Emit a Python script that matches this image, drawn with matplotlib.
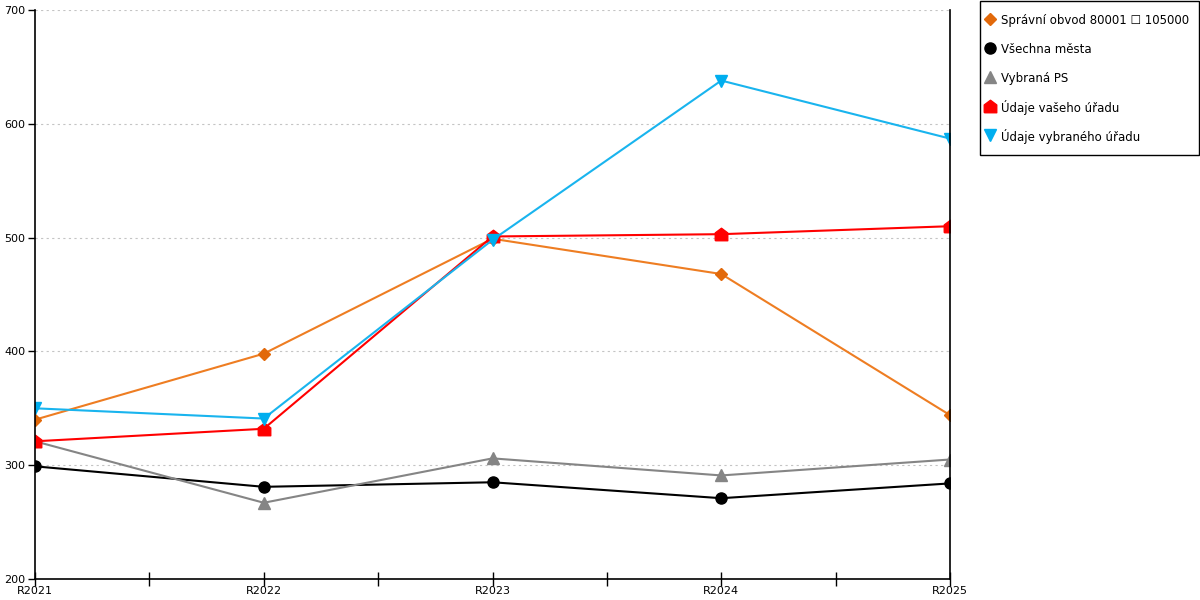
import matplotlib
matplotlib.use("Agg")
import matplotlib.pyplot as plt
from matplotlib.patches import Rectangle
from matplotlib.lines import Line2D
import numpy as np

# Data
years = ["R2021", "R2022", "R2023", "R2024", "R2025"]
spravni_obvod = [340, 398, 499, 468, 344]
vsechna_mesta = [299, 281, 285, 271, 284]
vybrana_ps = [321, 267, 306, 291, 305]
vas_urad = [321, 332, 501, 503, 510]
vybrany_urad = [350, 341, 498, 638, 587]

labels = ["Správní obvod 80001 \u2610 105000", "Všechna města", "Vybraná PS",
          "Údaje vašeho úřadu", "Údaje vybraného úřadu"]

# house-shaped marker for "vaseho uradu"
house = [(-1, -1), (1, -1), (1, 0.25), (0, 1), (-1, 0.25), (-1, -1)]

fig = plt.figure(figsize=(12, 6), dpi=100)
ax = fig.add_axes([35 / 1200, 21 / 600, 915 / 1200, 569 / 600])

x = np.arange(len(years))
ax.plot(x, spravni_obvod, color="#ee7d22", lw=1.5, marker="D", ms=6,
        mfc="#e2690a", mec="#e2690a", label=labels[0])
ax.plot(x, vsechna_mesta, color="black", lw=1.5, marker="o", ms=8, label=labels[1])
ax.plot(x, vybrana_ps, color="#858585", lw=1.5, marker="^", ms=8, label=labels[2])
ax.plot(x, vas_urad, color="#ff0000", lw=1.5, marker=house, ms=9, label=labels[3])
ax.plot(x, vybrany_urad, color="#19b4ee", lw=1.5, marker="v", ms=8,
        mfc="#00aeef", mec="#00aeef", label=labels[4])

ax.set_xlim(0, 4)
ax.set_ylim(200, 700)
ax.set_xticks(x)
ax.set_xticklabels(years)
ax.set_xticks(np.arange(0.5, 4, 1), minor=True)
ax.tick_params(axis="x", which="both", direction="inout", length=10, width=1, pad=0, labelsize=8)
ax.tick_params(axis="y", direction="out", length=5, width=1, pad=2, labelsize=8)
ax.set_yticks([200, 300, 400, 500, 600, 700])
ax.yaxis.grid(True, linestyle=(0, (2, 3)), color="#c4c4c4", lw=0.8)
ax.set_axisbelow(True)

ax.spines["top"].set_visible(False)
for s in ["left", "bottom", "right"]:
    ax.spines[s].set_color("black")
    ax.spines[s].set_linewidth(1.2)

# legend built by hand: box plus one marker and label per series, 29 px apart
W, H = 1200, 600
fig.patches.append(Rectangle((980 / W, 1 - 155 / H), 219 / W, 154 / H,
                             transform=fig.transFigure, fill=False,
                             edgecolor="black", lw=1))
for i, (ln, lab) in enumerate(zip(ax.get_lines(), labels)):
    yy = 1 - (19 + 29 * i) / H
    fig.lines.append(Line2D([990 / W], [yy], transform=fig.transFigure,
                            linestyle="none", marker=ln.get_marker(),
                            ms=ln.get_markersize(), mfc=ln.get_markerfacecolor(),
                            mec=ln.get_markeredgecolor()))
    fig.text(1001 / W, yy, lab, fontsize=8.5, va="center_baseline", ha="left")

fig.savefig("out.png", dpi=100)
